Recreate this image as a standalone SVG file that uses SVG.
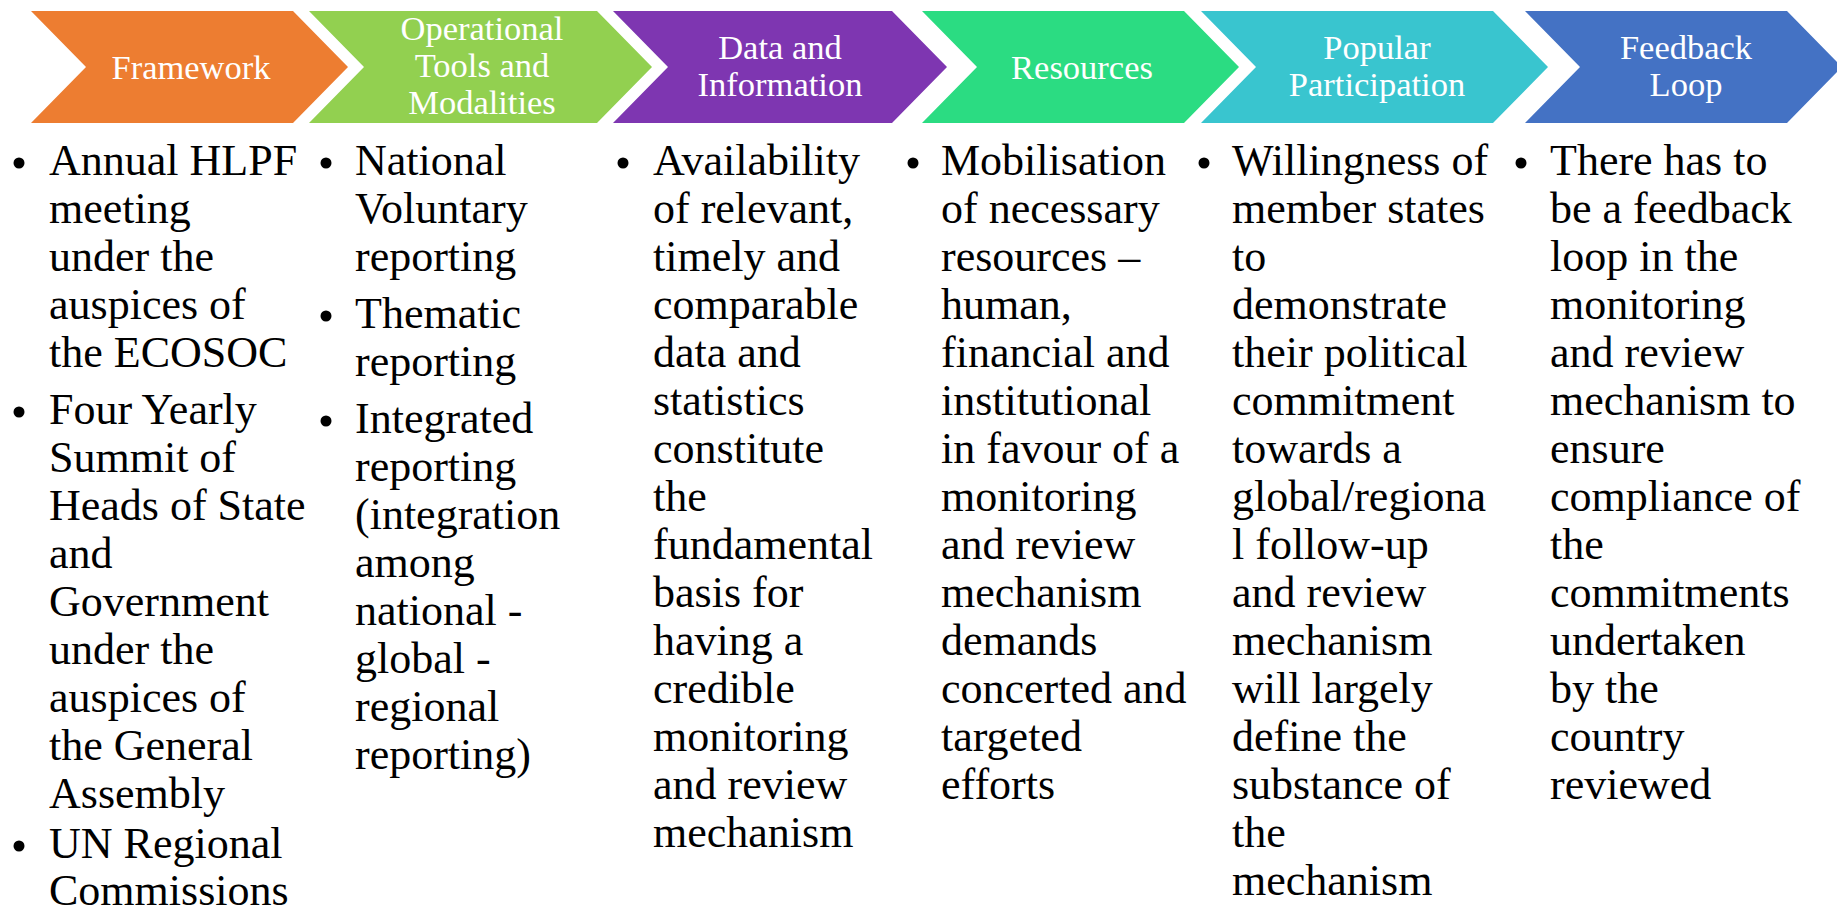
<svg xmlns="http://www.w3.org/2000/svg" width="1837" height="914" viewBox="0 0 1837 914">
<style>
.hd{font-family:"Liberation Serif","Times New Roman",serif;font-size:34.5px;fill:#fff;text-anchor:middle}
.bt{font-family:"Liberation Serif","Times New Roman",serif;font-size:44px;fill:#000}
.bl{fill:#000}
</style>
<rect width="1837" height="914" fill="#fff"/>
<g id="chevrons">
<g id="n1"><polygon points="31,11 293,11 348,67 293,123 31,123 86,67" fill="#ED7D31"/>
<text class="hd" x="191" y="79">Framework</text></g>
<g id="n2"><polygon points="309,11 597,11 652,67 597,123 309,123 364,67" fill="#92D050"/>
<text class="hd" x="482" y="40">Operational</text><text class="hd" x="482" y="77">Tools and</text><text class="hd" x="482" y="114">Modalities</text></g>
<g id="n3"><polygon points="613,11 892,11 947,67 892,123 613,123 668,67" fill="#7E36B1"/>
<text class="hd" x="780" y="59">Data and</text><text class="hd" x="780" y="96">Information</text></g>
<g id="n4"><polygon points="922,11 1184,11 1239,67 1184,123 922,123 977,67" fill="#2BDC82"/>
<text class="hd" x="1082" y="79">Resources</text></g>
<g id="n5"><polygon points="1201,11 1493,11 1548,67 1493,123 1201,123 1256,67" fill="#39C5CF"/>
<text class="hd" x="1377" y="59">Popular</text><text class="hd" x="1377" y="96">Participation</text></g>
<g id="n6"><polygon points="1525,11 1787,11 1842,67 1787,123 1525,123 1580,67" fill="#4472C4"/>
<text class="hd" x="1686" y="59">Feedback</text><text class="hd" x="1686" y="96">Loop</text></g>
</g>
<g id="connectors"></g>
<g id="col1">
<circle class="bl" cx="19" cy="163" r="5.5"/>
<text class="bt" x="49" y="175"><tspan x="49">Annual HLPF</tspan><tspan x="49" dy="48">meeting</tspan><tspan x="49" dy="48">under the</tspan><tspan x="49" dy="48">auspices of</tspan><tspan x="49" dy="48">the ECOSOC</tspan></text>
<circle class="bl" cx="19" cy="412" r="5.5"/>
<text class="bt" x="49" y="424"><tspan x="49">Four Yearly</tspan><tspan x="49" dy="48">Summit of</tspan><tspan x="49" dy="48">Heads of State</tspan><tspan x="49" dy="48">and</tspan><tspan x="49" dy="48">Government</tspan><tspan x="49" dy="48">under the</tspan><tspan x="49" dy="48">auspices of</tspan><tspan x="49" dy="48">the General</tspan><tspan x="49" dy="48">Assembly</tspan></text>
<circle class="bl" cx="19" cy="846" r="5.5"/>
<text class="bt" x="49" y="858"><tspan x="49">UN Regional</tspan><tspan x="49" dy="47">Commissions</tspan></text>
</g>
<g id="col2">
<circle class="bl" cx="326" cy="163" r="5.5"/>
<text class="bt" x="355" y="175"><tspan x="355">National</tspan><tspan x="355" dy="48">Voluntary</tspan><tspan x="355" dy="48">reporting</tspan></text>
<circle class="bl" cx="326" cy="316" r="5.5"/>
<text class="bt" x="355" y="328"><tspan x="355">Thematic</tspan><tspan x="355" dy="48">reporting</tspan></text>
<circle class="bl" cx="326" cy="421" r="5.5"/>
<text class="bt" x="355" y="433"><tspan x="355">Integrated</tspan><tspan x="355" dy="48">reporting</tspan><tspan x="355" dy="48">(integration</tspan><tspan x="355" dy="48">among</tspan><tspan x="355" dy="48">national -</tspan><tspan x="355" dy="48">global -</tspan><tspan x="355" dy="48">regional</tspan><tspan x="355" dy="48">reporting)</tspan></text>
</g>
<g id="col3">
<circle class="bl" cx="623" cy="163" r="5.5"/>
<text class="bt" x="653" y="175"><tspan x="653">Availability</tspan><tspan x="653" dy="48">of relevant,</tspan><tspan x="653" dy="48">timely and</tspan><tspan x="653" dy="48">comparable</tspan><tspan x="653" dy="48">data and</tspan><tspan x="653" dy="48">statistics</tspan><tspan x="653" dy="48">constitute</tspan><tspan x="653" dy="48">the</tspan><tspan x="653" dy="48">fundamental</tspan><tspan x="653" dy="48">basis for</tspan><tspan x="653" dy="48">having a</tspan><tspan x="653" dy="48">credible</tspan><tspan x="653" dy="48">monitoring</tspan><tspan x="653" dy="48">and review</tspan><tspan x="653" dy="48">mechanism</tspan></text>
</g>
<g id="col4">
<circle class="bl" cx="913" cy="163" r="5.5"/>
<text class="bt" x="941" y="175"><tspan x="941">Mobilisation</tspan><tspan x="941" dy="48">of necessary</tspan><tspan x="941" dy="48">resources –</tspan><tspan x="941" dy="48">human,</tspan><tspan x="941" dy="48">financial and</tspan><tspan x="941" dy="48">institutional</tspan><tspan x="941" dy="48">in favour of a</tspan><tspan x="941" dy="48">monitoring</tspan><tspan x="941" dy="48">and review</tspan><tspan x="941" dy="48">mechanism</tspan><tspan x="941" dy="48">demands</tspan><tspan x="941" dy="48">concerted and</tspan><tspan x="941" dy="48">targeted</tspan><tspan x="941" dy="48">efforts</tspan></text>
</g>
<g id="col5">
<circle class="bl" cx="1204" cy="163" r="5.5"/>
<text class="bt" x="1232" y="175"><tspan x="1232">Willingness of</tspan><tspan x="1232" dy="48">member states</tspan><tspan x="1232" dy="48">to</tspan><tspan x="1232" dy="48">demonstrate</tspan><tspan x="1232" dy="48">their political</tspan><tspan x="1232" dy="48">commitment</tspan><tspan x="1232" dy="48">towards a</tspan><tspan x="1232" dy="48">global/regiona</tspan><tspan x="1232" dy="48">l follow-up</tspan><tspan x="1232" dy="48">and review</tspan><tspan x="1232" dy="48">mechanism</tspan><tspan x="1232" dy="48">will largely</tspan><tspan x="1232" dy="48">define the</tspan><tspan x="1232" dy="48">substance of</tspan><tspan x="1232" dy="48">the</tspan><tspan x="1232" dy="48">mechanism</tspan></text>
</g>
<g id="col6">
<circle class="bl" cx="1521" cy="163" r="5.5"/>
<text class="bt" x="1550" y="175"><tspan x="1550">There has to</tspan><tspan x="1550" dy="48">be a feedback</tspan><tspan x="1550" dy="48">loop in the</tspan><tspan x="1550" dy="48">monitoring</tspan><tspan x="1550" dy="48">and review</tspan><tspan x="1550" dy="48">mechanism to</tspan><tspan x="1550" dy="48">ensure</tspan><tspan x="1550" dy="48">compliance of</tspan><tspan x="1550" dy="48">the</tspan><tspan x="1550" dy="48">commitments</tspan><tspan x="1550" dy="48">undertaken</tspan><tspan x="1550" dy="48">by the</tspan><tspan x="1550" dy="48">country</tspan><tspan x="1550" dy="48">reviewed</tspan></text>
</g>
</svg>
